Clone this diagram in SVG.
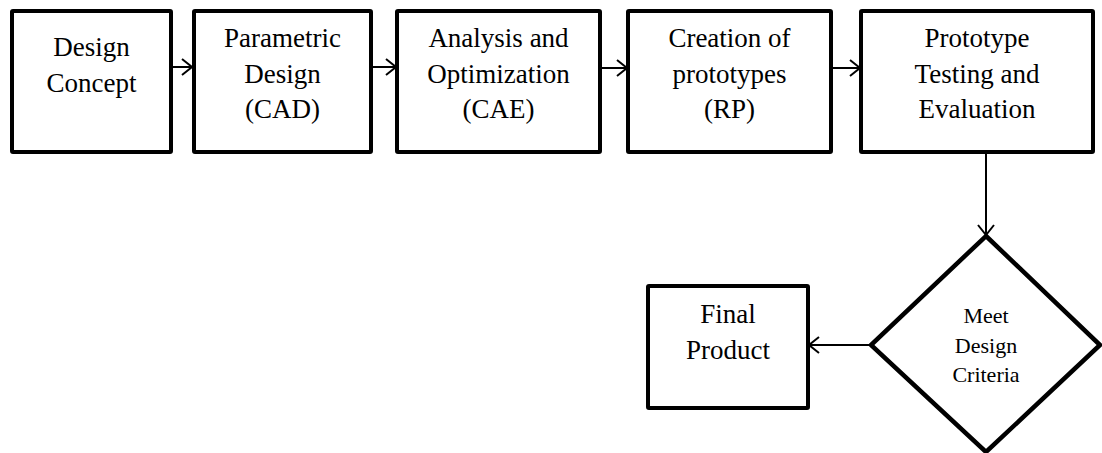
<svg xmlns="http://www.w3.org/2000/svg" width="1102" height="453" viewBox="0 0 1102 453">
<defs>
<style>
.box{fill:#fff;stroke:#000;stroke-width:4;stroke-linejoin:round}
.dia{fill:#fff;stroke:#000;stroke-width:4.5;stroke-linejoin:miter}
.t{font-family:"Liberation Serif","Times New Roman",serif;font-size:27px;fill:#000;text-anchor:middle}
.ts{font-family:"Liberation Serif","Times New Roman",serif;font-size:22px;fill:#000;text-anchor:middle}
.c{fill:none;stroke:#000;stroke-width:2}
</style>
<marker id="ah" viewBox="0 0 12 18" refX="11" refY="9" markerWidth="12" markerHeight="18" markerUnits="userSpaceOnUse" orient="auto">
<path d="M1,1 L11,9 L1,17" fill="none" stroke="#000" stroke-width="2"/>
</marker>
</defs>
<g id="connectors">
<line class="c" x1="171" y1="67" x2="192" y2="67" marker-end="url(#ah)"/>
<line class="c" x1="371" y1="67" x2="396" y2="67" marker-end="url(#ah)"/>
<line class="c" x1="600" y1="68" x2="627" y2="68" marker-end="url(#ah)"/>
<line class="c" x1="831" y1="68" x2="860" y2="68" marker-end="url(#ah)"/>
<line class="c" x1="986" y1="152" x2="986" y2="235" marker-end="url(#ah)"/>
<line class="c" x1="870" y1="345" x2="809" y2="345" marker-end="url(#ah)"/>
</g>
<g id="n1">
<rect class="box" x="12" y="11" width="159" height="141" rx="1"/>
<text class="t" x="91.5" y="56">Design</text>
<text class="t" x="91.5" y="92">Concept</text>
</g>
<g id="n2">
<rect class="box" x="194" y="11" width="177" height="141" rx="1"/>
<text class="t" x="282.5" y="47">Parametric</text>
<text class="t" x="282.5" y="82.5">Design</text>
<text class="t" x="282.5" y="118">(CAD)</text>
</g>
<g id="n3">
<rect class="box" x="397" y="11" width="203" height="141" rx="1"/>
<text class="t" x="498.5" y="47">Analysis and</text>
<text class="t" x="498.5" y="82.5">Optimization</text>
<text class="t" x="498.5" y="118">(CAE)</text>
</g>
<g id="n4">
<rect class="box" x="628" y="11" width="203" height="141" rx="1"/>
<text class="t" x="729.5" y="47">Creation of</text>
<text class="t" x="729.5" y="82.5">prototypes</text>
<text class="t" x="729.5" y="118">(RP)</text>
</g>
<g id="n5">
<rect class="box" x="861" y="11" width="232" height="141" rx="1"/>
<text class="t" x="977" y="47">Prototype</text>
<text class="t" x="977" y="82.5">Testing and</text>
<text class="t" x="977" y="118">Evaluation</text>
</g>
<g id="n6">
<polygon class="dia" points="986,236 1100,345 986,452 871,345"/>
<text class="ts" x="986" y="323">Meet</text>
<text class="ts" x="986" y="353">Design</text>
<text class="ts" x="986" y="382">Criteria</text>
</g>
<g id="n7">
<rect class="box" x="648" y="286" width="160" height="122" rx="1"/>
<text class="t" x="728" y="323">Final</text>
<text class="t" x="728" y="359">Product</text>
</g>
</svg>
